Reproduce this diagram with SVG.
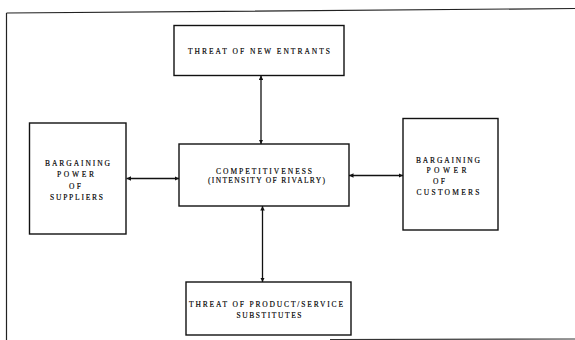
<svg xmlns="http://www.w3.org/2000/svg" width="575" height="340" viewBox="0 0 575 340">
<style>
.box{fill:#fff;stroke:#111;stroke-width:1.4}
.frame{fill:none;stroke:#222;stroke-width:1.2}
.conn{stroke:#111;stroke-width:1.3;fill:none;marker-start:url(#ah);marker-end:url(#ah)}
text{font-family:"Liberation Serif","Times New Roman",serif;font-size:7.5px;fill:#000;stroke:#000;stroke-width:0.15;text-anchor:middle}
</style>
<defs>
<marker id="ah" viewBox="0 0 10 10" refX="10" refY="5" markerWidth="4.5" markerHeight="4.5" orient="auto-start-reverse" markerUnits="userSpaceOnUse">
<path d="M0,0 L10,5 L0,10 z" fill="#111"/>
</marker>
</defs>
<rect width="575" height="340" fill="#fff"/>
<g id="frame">
<path class="frame" d="M6.5,13 L575,8.5 M6.5,13 L6.5,340"/>
<path d="M330,339.5 L575,339" stroke="#333" stroke-width="1.2" fill="none"/>
</g>
<g id="connectors">
<line class="conn" x1="261" y1="144" x2="261" y2="75.5"/>
<line class="conn" x1="262.5" y1="206" x2="262.5" y2="282"/>
<line class="conn" x1="126.5" y1="178.5" x2="179" y2="178.5"/>
<line class="conn" x1="349" y1="175.5" x2="403" y2="175.5"/>
</g>
<g id="new-entrants">
<rect class="box" x="174" y="25.5" width="170" height="50"/>
<text x="259" y="54" textLength="142" lengthAdjust="spacing">THREAT OF NEW ENTRANTS</text>
</g>
<g id="competitiveness">
<rect class="box" x="179" y="144" width="170" height="62"/>
<text x="264" y="174" textLength="96" lengthAdjust="spacing">COMPETITIVENESS</text>
<text x="266.5" y="183" textLength="117" lengthAdjust="spacing">(INTENSITY OF RIVALRY)</text>
</g>
<g id="suppliers">
<rect class="box" x="29.5" y="123" width="96.5" height="111"/>
<text x="77.5" y="165.5" textLength="65" lengthAdjust="spacing">BARGAINING</text>
<text x="75.5" y="177" textLength="37" lengthAdjust="spacing">POWER</text>
<text x="75" y="188.5" textLength="12" lengthAdjust="spacing">OF</text>
<text x="76.5" y="199.5" textLength="53" lengthAdjust="spacing">SUPPLIERS</text>
</g>
<g id="customers">
<rect class="box" x="403" y="118.5" width="95" height="111.5"/>
<text x="448" y="162.5" textLength="64" lengthAdjust="spacing">BARGAINING</text>
<text x="446.5" y="173" textLength="40" lengthAdjust="spacing">POWER</text>
<text x="439" y="183.5" textLength="12" lengthAdjust="spacing">OF</text>
<text x="448" y="195" textLength="63" lengthAdjust="spacing">CUSTOMERS</text>
</g>
<g id="substitutes">
<rect class="box" x="186" y="282" width="165" height="53"/>
<text x="266" y="306.5" textLength="154" lengthAdjust="spacing">THREAT OF PRODUCT/SERVICE</text>
<text x="269" y="318" textLength="65" lengthAdjust="spacing">SUBSTITUTES</text>
</g>
</svg>
